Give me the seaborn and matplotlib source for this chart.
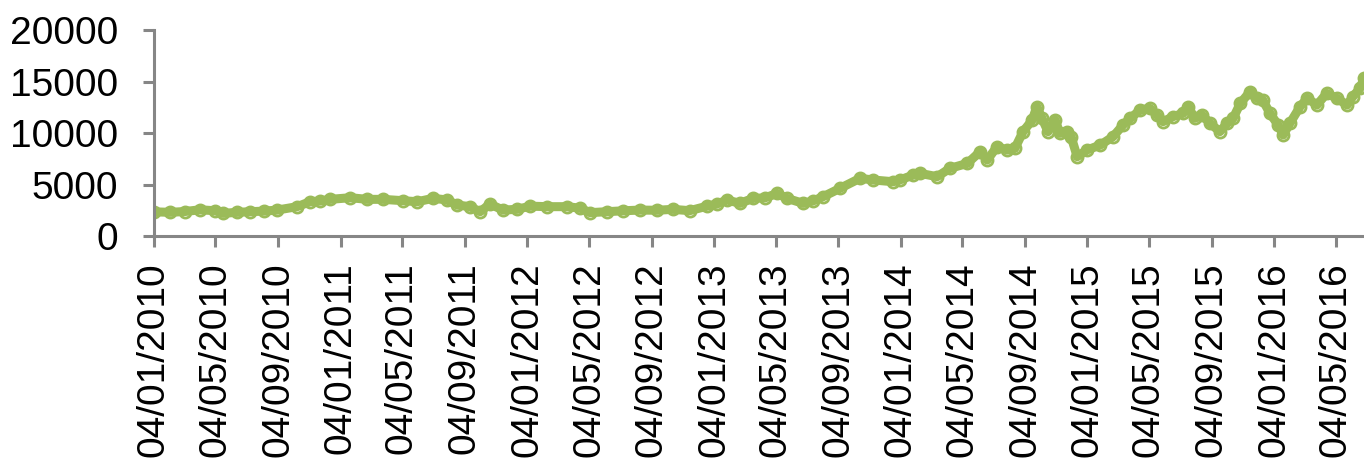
import matplotlib
matplotlib.use("Agg")
import matplotlib.pyplot as plt
import seaborn as sns
import pandas as pd

dates = [
    "2010-01-04", "2010-02-04", "2010-03-06", "2010-04-04", "2010-05-04", "2010-05-19",
    "2010-06-16", "2010-07-11", "2010-08-08", "2010-09-02", "2010-10-11", "2010-11-05",
    "2010-11-25", "2010-12-15", "2011-01-23", "2011-02-25", "2011-03-28", "2011-05-06",
    "2011-06-03", "2011-07-04", "2011-07-31", "2011-08-20", "2011-09-14", "2011-10-04",
    "2011-10-23", "2011-11-18", "2011-12-15", "2012-01-10", "2012-02-12", "2012-03-22",
    "2012-04-17", "2012-05-06", "2012-06-08", "2012-07-10", "2012-08-12", "2012-09-14",
    "2012-10-15", "2012-11-17", "2012-12-21", "2013-01-09", "2013-01-29", "2013-02-23",
    "2013-03-21", "2013-04-13", "2013-05-07", "2013-05-26", "2013-06-27", "2013-07-16",
    "2013-08-05", "2013-09-07", "2013-10-16", "2013-11-11", "2013-12-20", "2014-01-02",
    "2014-01-28", "2014-02-11", "2014-03-16", "2014-04-10", "2014-05-14", "2014-06-08",
    "2014-06-22", "2014-07-11", "2014-07-31", "2014-08-15", "2014-08-31", "2014-09-18",
    "2014-09-27", "2014-10-07", "2014-10-19", "2014-11-02", "2014-11-11", "2014-11-25",
    "2014-12-03", "2014-12-15", "2015-01-03", "2015-01-29", "2015-02-23", "2015-03-15",
    "2015-03-29", "2015-04-17", "2015-05-06", "2015-05-20", "2015-06-01", "2015-06-20",
    "2015-07-10", "2015-07-20", "2015-08-02", "2015-08-16", "2015-09-01", "2015-09-20",
    "2015-10-04", "2015-10-16", "2015-10-30", "2015-11-18", "2015-12-02", "2015-12-13",
    "2015-12-27", "2016-01-12", "2016-01-22", "2016-02-04", "2016-02-24", "2016-03-09",
    "2016-03-28", "2016-04-16", "2016-05-06", "2016-05-26", "2016-06-06", "2016-06-20",
    "2016-06-28",
]
values = [
    2350, 2300, 2380, 2550, 2450, 2200,
    2300, 2360, 2420, 2520, 2850, 3330,
    3400, 3560, 3720, 3560, 3560, 3430,
    3330, 3660, 3500, 3010, 2850, 2360,
    3100, 2520, 2590, 2900, 2850, 2850,
    2700, 2270, 2360, 2450, 2520, 2500,
    2590, 2460, 2900, 3100, 3500, 3170,
    3660, 3700, 4140, 3660, 3170, 3400,
    3820, 4630, 5600, 5440, 5270, 5440,
    5920, 6080, 5760, 6570, 7050, 8190,
    7380, 8670, 8350, 8500, 10130, 11260,
    12560, 11430, 10130, 11260, 9970, 10130,
    9650, 7700, 8350, 8830, 9640, 10800,
    11430, 12230, 12400, 11750, 11100, 11580,
    11910, 12560, 11430, 11750, 10940, 10130,
    10940, 11430, 12880, 14010, 13370, 13200,
    11910, 10780, 9810, 10940, 12560, 13370,
    12720, 13850, 13370, 12720, 13520, 14340,
    15310,
]
tick_dates = [
    "2010-01-04", "2010-05-04", "2010-09-04", "2011-01-04", "2011-05-04", "2011-09-04",
    "2012-01-04", "2012-05-04", "2012-09-04", "2013-01-04", "2013-05-04", "2013-09-04",
    "2014-01-04", "2014-05-04", "2014-09-04", "2015-01-04", "2015-05-04", "2015-09-04",
    "2016-01-04", "2016-05-04",
]
y_ticks = [0, 5000, 10000, 15000, 20000]
x_start = "2010-01-04"
x_end = "2016-06-28"

df = pd.DataFrame({"date": pd.to_datetime(dates), "value": values})

sns.set_theme(style="white")
plt.rcParams["font.family"] = ["Liberation Sans", "DejaVu Sans"]

fig = plt.figure(figsize=(13.64, 4.59), dpi=100)
ax = fig.add_axes([0.1129, 0.4858, 0.8871, 0.4488])

green = "#9BBB59"
sns.lineplot(data=df, x="date", y="value", ax=ax, color=green, linewidth=6.5,
             marker="o", markersize=8, markerfacecolor="none",
             markeredgecolor=green, markeredgewidth=2.0)

ax.set_xlim(pd.Timestamp(x_start), pd.Timestamp(x_end))
ax.set_ylim(0, 20000)
ax.set_yticks(y_ticks)
ax.set_yticklabels([str(v) for v in y_ticks])
tks = pd.to_datetime(tick_dates)
ax.set_xticks(tks)
ax.set_xticklabels([d.strftime("%d/%m/%Y") for d in tks], rotation=90)

ax.set_xlabel("")
ax.set_ylabel("")
for s in ["top", "right"]:
    ax.spines[s].set_visible(False)
for s in ["left", "bottom"]:
    ax.spines[s].set_color("#868686")
    ax.spines[s].set_linewidth(2.2)

ax.tick_params(axis="both", which="major", direction="out", color="#868686",
               width=2.2, labelsize=28, labelcolor="black")
ax.tick_params(axis="x", length=8, pad=11, bottom=True)
ax.tick_params(axis="y", length=8, pad=18, left=True)
ax.grid(False)

fig.savefig("out.png", dpi=100)
